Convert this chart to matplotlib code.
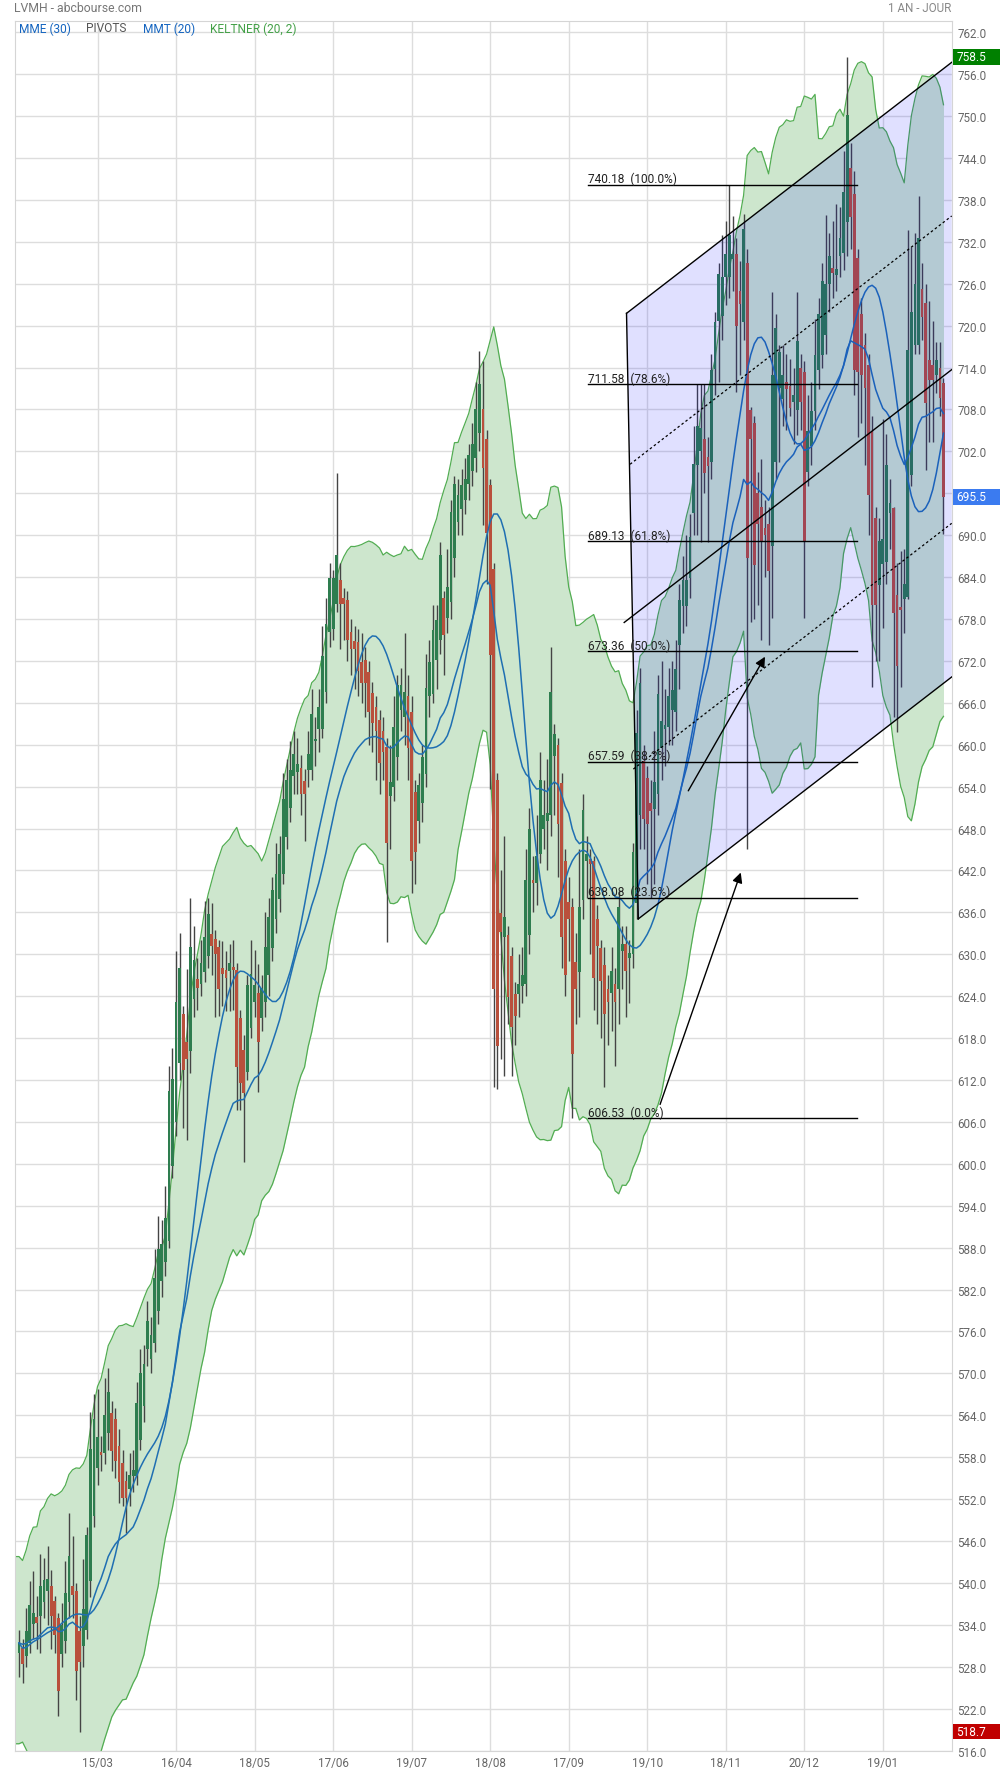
import numpy as np
import pandas as pd
import matplotlib
matplotlib.use("Agg")
import matplotlib.pyplot as plt
from matplotlib.patches import Polygon, Rectangle
from matplotlib.transforms import blended_transform_factory

plt.rcParams['font.family'] = ['Roboto', 'DejaVu Sans']

# ---- daily candles, one entry per session ----
open_ = [
    530.0, 530.7, 529.6, 531.4, 534.1, 535.1, 535.3, 537.2, 538.8, 539.5,
    537.4, 535.0, 529.8, 531.7, 537.2, 539.5, 538.8, 533.1, 531.0, 533.3,
    540.3, 549.6, 556.5, 558.8, 558.6, 561.4, 564.3, 563.4, 559.6, 557.1,
    554.6, 553.4, 555.3, 555.3, 560.5, 565.3, 573.5, 572.0, 574.4, 578.9,
    583.2, 585.9, 589.0, 599.7, 606.0, 614.5, 621.4, 617.4, 616.2, 623.6,
    626.4, 625.7, 627.4, 629.8, 632.9, 632.2, 631.1, 628.0, 627.7, 627.6,
    628.0, 627.8, 620.9, 616.3, 613.2, 619.4, 623.2, 624.4, 620.9, 623.1,
    627.0, 630.9, 635.0, 637.9, 641.5, 646.8, 651.0, 655.5, 656.1, 656.7,
    654.8, 656.4, 656.4, 660.5, 662.2, 662.2, 667.6, 676.2, 676.5, 680.1,
    683.6, 681.0, 680.7, 676.2, 674.9, 674.7, 671.8, 672.1, 670.4, 667.4,
    665.4, 663.5, 661.9, 659.7, 652.7, 653.9, 658.3, 665.0, 664.0, 667.0,
    664.7, 653.2, 649.1, 651.6, 655.8, 667.0, 667.3, 672.1, 675.0, 681.0,
    678.2, 680.4, 686.8, 691.9, 693.8, 695.1, 697.3, 699.2, 701.1, 704.6,
    708.1, 703.8, 697.2, 685.2, 654.9, 635.9, 632.4, 632.8, 629.7, 624.3,
    624.3, 625.4, 625.8, 632.8, 640.6, 640.2, 644.4, 648.0, 649.1, 649.9,
    658.4, 660.0, 654.5, 643.3, 637.5, 636.7, 628.9, 627.4, 637.8, 643.3,
    643.6, 643.3, 635.0, 630.9, 628.5, 625.0, 624.5, 625.7, 625.0, 630.5,
    631.4, 629.5, 630.0, 637.4, 649.9, 657.7, 655.3, 651.6, 650.8, 652.9,
    659.6, 662.2, 662.5, 665.0, 664.7, 674.3, 679.8, 679.8, 683.9, 693.2,
    700.0, 702.1, 703.7, 701.2, 700.5, 713.8, 720.7, 721.4, 726.9, 726.9,
    729.6, 730.3, 725.0, 720.5, 729.0, 707.9, 706.0, 696.0, 694.1, 691.0,
    691.6, 688.4, 700.5, 711.1, 709.5, 712.0, 711.4, 709.0, 707.9, 714.0,
    713.3, 699.0, 702.7, 707.8, 713.6, 715.8, 718.7, 726.0, 728.2, 727.2,
    730.0, 730.4, 734.8, 742.5, 738.8, 729.7, 721.7, 717.3, 714.4, 704.9,
    692.4, 682.9, 685.9, 686.2, 693.2, 693.9, 681.5, 679.6, 680.8, 681.1,
    698.6, 717.3, 717.3, 725.3, 723.3, 715.1, 714.4, 712.9, 714.0, 711.8,
]
high = [
    533.2, 531.9, 536.4, 540.2, 541.7, 538.1, 544.1, 543.6, 545.3, 541.9,
    538.1, 535.7, 537.1, 543.1, 550.0, 546.7, 540.0, 535.2, 543.4, 548.0,
    564.4, 567.0, 567.7, 561.0, 569.4, 570.8, 566.0, 565.0, 562.0, 559.0,
    556.0, 558.6, 559.0, 568.7, 573.5, 574.0, 580.4, 578.0, 587.8, 592.5,
    592.0, 596.8, 614.0, 616.6, 630.5, 633.0, 622.6, 627.9, 638.0, 634.0,
    629.4, 632.0, 637.6, 638.0, 637.4, 633.5, 632.0, 631.9, 630.5, 631.4,
    632.0, 628.7, 622.0, 618.5, 627.0, 632.1, 630.6, 628.6, 627.0, 636.0,
    638.0, 641.0, 646.0, 647.0, 656.0, 658.0, 660.5, 662.0, 661.0, 658.5,
    656.5, 662.0, 668.0, 664.0, 668.0, 677.0, 681.0, 686.0, 685.0, 698.9,
    686.0, 682.5, 682.0, 678.0, 677.0, 676.5, 676.0, 674.0, 672.0, 669.0,
    667.0, 665.0, 664.0, 661.0, 660.0, 667.0, 670.0, 671.0, 676.0, 670.0,
    667.0, 655.0, 656.0, 660.0, 673.0, 675.0, 680.0, 680.0, 689.0, 682.0,
    688.0, 695.0, 698.5, 698.0, 699.5, 701.0, 703.0, 706.0, 712.0, 716.3,
    715.0, 705.0, 698.0, 686.0, 656.0, 642.0, 647.0, 634.0, 631.0, 626.0,
    630.0, 631.0, 645.0, 651.0, 644.0, 650.0, 659.0, 655.0, 658.0, 674.0,
    663.0, 661.0, 656.0, 645.0, 641.0, 638.0, 633.0, 645.0, 653.0, 647.0,
    645.0, 644.0, 637.0, 632.0, 631.0, 627.0, 631.0, 628.0, 639.0, 634.0,
    634.0, 632.0, 646.0, 665.0, 671.0, 660.0, 657.0, 655.0, 662.0, 670.0,
    672.0, 668.0, 671.0, 672.0, 675.0, 683.0, 687.0, 690.0, 693.0, 705.6,
    711.6, 711.7, 711.7, 704.0, 716.0, 722.0, 729.0, 733.0, 735.0, 740.18,
    735.7, 732.5, 729.3, 736.0, 731.0, 708.3, 707.0, 699.0, 700.9, 695.0,
    694.0, 724.8, 721.6, 717.2, 717.2, 716.0, 715.2, 714.0, 724.8, 716.0,
    715.0, 710.0, 712.0, 721.0, 724.0, 729.0, 735.9, 733.3, 735.0, 737.4,
    737.0, 745.0, 758.5, 746.1, 742.1, 731.0, 724.0, 719.0, 716.0, 707.0,
    694.0, 692.4, 706.7, 704.5, 698.0, 694.0, 686.0, 687.7, 688.0, 733.7,
    731.2, 733.3, 738.5, 729.0, 726.0, 723.5, 720.6, 717.6, 717.6, 712.5,
]
low = [
    526.5, 525.6, 528.0, 530.0, 532.0, 530.5, 530.0, 535.0, 534.0, 530.5,
    530.0, 520.9, 528.0, 530.0, 535.0, 535.0, 523.3, 518.7, 527.9, 532.0,
    538.0, 548.0, 554.0, 556.0, 557.0, 559.0, 556.0, 555.0, 551.5, 551.0,
    547.2, 551.0, 553.0, 554.0, 559.0, 563.0, 571.0, 570.0, 573.0, 577.0,
    581.0, 584.0, 588.0, 598.0, 604.0, 612.0, 605.1, 603.4, 613.0, 621.0,
    622.0, 624.0, 626.0, 628.0, 627.0, 621.0, 621.2, 622.6, 621.9, 621.9,
    622.0, 607.7, 607.7, 600.2, 612.0, 618.0, 621.0, 610.3, 619.0, 621.0,
    624.0, 629.0, 633.0, 636.0, 640.0, 645.0, 649.0, 653.0, 653.0, 650.0,
    646.2, 654.0, 655.0, 657.0, 659.0, 661.0, 666.0, 674.0, 675.0, 679.0,
    673.7, 675.0, 672.0, 670.0, 668.0, 667.0, 666.0, 664.0, 660.0, 659.0,
    655.0, 653.0, 655.0, 631.8, 645.0, 652.0, 655.0, 662.0, 660.0, 655.0,
    638.8, 640.0, 646.0, 649.0, 654.0, 664.0, 666.0, 668.0, 673.0, 670.0,
    676.0, 678.0, 684.0, 690.0, 690.0, 693.0, 695.0, 697.0, 699.0, 702.0,
    691.4, 683.0, 653.7, 611.0, 610.7, 615.0, 612.5, 620.0, 612.6, 617.0,
    621.0, 623.0, 624.0, 630.0, 636.0, 637.0, 643.0, 645.0, 642.0, 647.0,
    650.0, 641.0, 628.0, 624.0, 629.0, 606.53, 620.0, 621.0, 635.0, 638.0,
    630.0, 622.0, 620.0, 618.0, 611.0, 617.0, 619.0, 614.0, 620.0, 625.0,
    621.0, 623.0, 628.0, 635.0, 645.0, 645.0, 640.0, 638.0, 640.0, 650.0,
    655.0, 657.0, 660.0, 660.0, 662.0, 668.0, 676.0, 677.0, 681.0, 690.0,
    690.0, 689.0, 696.0, 689.0, 698.0, 710.0, 712.0, 718.0, 723.0, 724.0,
    725.0, 710.5, 713.0, 718.0, 645.0, 677.5, 678.0, 680.0, 675.0, 684.0,
    674.3, 678.2, 698.0, 700.5, 705.6, 705.0, 707.0, 703.0, 704.4, 705.0,
    678.2, 697.0, 700.0, 705.0, 711.0, 714.0, 716.0, 722.0, 724.0, 725.0,
    727.0, 728.0, 730.0, 731.0, 710.0, 704.0, 706.0, 700.0, 690.0, 668.3,
    672.0, 672.0, 676.7, 683.0, 688.0, 664.0, 661.8, 668.3, 676.0, 680.8,
    697.0, 716.0, 716.0, 718.0, 699.4, 703.4, 703.4, 710.3, 707.0, 690.2,
]
close = [
    531.4, 528.4, 533.1, 536.9, 535.7, 534.3, 539.5, 540.4, 540.5, 535.3,
    532.6, 524.5, 534.0, 538.6, 543.8, 538.3, 527.4, 528.6, 536.2, 546.9,
    559.1, 563.4, 560.9, 558.3, 564.1, 567.3, 558.9, 557.5, 554.5, 552.2,
    552.2, 555.4, 556.2, 565.7, 570.0, 571.3, 577.5, 575.5, 583.6, 587.8,
    588.5, 592.3, 610.4, 612.2, 623.1, 628.1, 613.5, 615.0, 631.1, 629.2,
    625.2, 628.8, 632.4, 635.7, 631.2, 630.0, 625.0, 627.2, 626.6, 628.7,
    627.8, 613.8, 611.6, 610.1, 625.6, 627.2, 625.6, 617.5, 625.2, 631.0,
    635.3, 639.2, 641.5, 644.4, 652.3, 655.0, 656.4, 658.7, 657.2, 652.9,
    652.9, 658.7, 664.4, 660.7, 665.4, 672.7, 677.3, 683.8, 683.8, 687.1,
    680.1, 680.1, 675.0, 673.7, 673.7, 670.5, 668.9, 668.9, 664.7, 663.1,
    661.9, 657.4, 659.0, 645.9, 654.6, 662.5, 668.6, 668.6, 667.5, 659.6,
    643.3, 644.6, 654.2, 658.3, 668.1, 671.8, 676.4, 677.9, 687.1, 675.7,
    682.6, 693.3, 697.3, 695.7, 697.2, 698.0, 701.5, 703.0, 708.1, 711.6,
    699.6, 690.3, 672.8, 625.0, 616.9, 633.2, 635.3, 623.9, 619.6, 621.1,
    625.8, 627.0, 640.6, 648.0, 640.2, 644.0, 654.9, 649.9, 650.2, 667.6,
    661.5, 648.7, 632.4, 627.0, 635.1, 615.7, 625.0, 636.7, 650.6, 644.4,
    642.9, 626.6, 631.2, 626.2, 621.5, 623.1, 627.6, 623.1, 636.7, 631.4,
    627.6, 630.2, 644.6, 661.7, 668.9, 649.3, 648.6, 650.5, 654.6, 667.3,
    663.4, 662.8, 667.0, 667.9, 670.8, 680.7, 683.6, 683.6, 689.7, 700.2,
    705.6, 705.3, 698.9, 699.9, 713.6, 720.5, 727.4, 726.9, 730.3, 733.0,
    730.3, 720.0, 723.1, 733.8, 686.8, 703.7, 685.8, 691.6, 689.0, 690.0,
    684.9, 713.0, 719.7, 716.2, 713.0, 711.0, 708.2, 710.0, 717.8, 709.0,
    689.2, 704.9, 707.8, 715.8, 721.7, 726.4, 726.0, 730.0, 727.5, 728.1,
    732.6, 739.2, 750.1, 735.5, 713.6, 713.3, 712.9, 711.1, 695.7, 680.0,
    680.0, 689.1, 689.5, 700.1, 694.6, 678.9, 671.3, 679.3, 683.0, 716.5,
    722.0, 726.0, 732.6, 721.3, 708.9, 712.2, 712.2, 715.1, 709.6, 695.5,
]

date_ticks = [22, 44, 66, 88, 110, 132, 154, 176, 198, 220, 242]
date_labels = ["15/03", "16/04", "18/05", "17/06", "19/07", "18/08",
               "17/09", "19/10", "18/11", "20/12", "19/01"]

fib_levels = [740.18, 711.58, 689.13, 673.36, 657.59, 638.08, 606.53]
fib_pcts = ["100.0%", "78.6%", "61.8%", "50.0%", "38.2%", "23.6%", "0.0%"]

tag_high, tag_last, tag_low = 758.5, 695.5, 518.7

# drawn channel (pitchfork-like) and arrows, in chart coordinates
x_left, x_right = -1.26, 261.3
chan_mid_right = 713.7
chan_slope = 0.3945
chan_step = 22.0
chan_left_top, chan_left_bot = 170.2, 173.5
mid_start, udot_start, ldot_start = 169.55, 171.2, 172.1
fib_start, fib_end = 159.4, 234.7
arrows = [((179.6, 608.5), (202.2, 641.7)),
          ((187.5, 653.4), (209.0, 672.6))]

# ---- indicators ----
df = pd.DataFrame({'o': open_, 'h': high, 'l': low, 'c': close})
df['h'] = df[['o', 'h', 'c']].max(axis=1)
df['l'] = df[['o', 'l', 'c']].min(axis=1)
x = np.arange(len(df))

mme30 = df.c.ewm(span=30, adjust=False).mean()
mmt20 = df.c.rolling(10, min_periods=1).mean().rolling(11, min_periods=1).mean()
tp = (df.h + df.l + df.c) / 3
kmid = tp.ewm(span=20, adjust=False).mean()
prev = df.c.shift(1).fillna(df.o)
tr = pd.concat([df.h - df.l, (df.h - prev).abs(), (df.l - prev).abs()], axis=1).max(axis=1)
atr = tr.rolling(20, min_periods=1).mean()
kup = kmid + 2 * atr
kdn = kmid - 2 * atr

# ---- figure ----
fig = plt.figure(figsize=(10, 17.74), dpi=100)
ax = fig.add_axes([0.0145, 0.01268, 0.9372, 0.97509])
ax.set_xlim(x_left, x_right)
ax.set_ylim(516, 763.66)

xb = np.r_[x_left, x]
ub = np.r_[kup.iloc[0], kup.values]
db = np.r_[kdn.iloc[0], kdn.values]
ax.fill_between(xb, db, ub, color='#cde6cd', lw=0, zorder=1)
ax.plot(xb, ub, color='#52ad52', lw=0.9, zorder=2)
ax.plot(xb, db, color='#52ad52', lw=0.9, zorder=2)

# candles
green, red = '#2e7d4f', '#b9503c'
rising = (df.c >= df.o).values
ax.vlines(x, df.l, df.h, color='#444444', lw=1, zorder=3)
body_lo = np.minimum(df.o, df.c)
body_h = np.maximum((df.c - df.o).abs(), 0.35)
ax.bar(x, body_h, bottom=body_lo, width=0.78, color=np.where(rising, green, red),
       lw=0, zorder=4)

ax.plot(x, mme30, color='#1f6fb2', lw=1.1, zorder=5)
ax.plot(x, mmt20, color='#1f6fb2', lw=1.1, zorder=5)

# channel
def chan(xx, k):
    return chan_mid_right + chan_slope * (np.asarray(xx) - x_right) + k * chan_step

poly = Polygon([(chan_left_top, chan(chan_left_top, 2)), (x_right, chan(x_right, 2)),
                (x_right, chan(x_right, -2)), (chan_left_bot, chan(chan_left_bot, -2))],
               closed=True, facecolor=(0.0, 0.0, 1.0, 0.12), edgecolor='none', zorder=6)
ax.add_patch(poly)
ax.plot([chan_left_top, chan_left_bot], [chan(chan_left_top, 2), chan(chan_left_bot, -2)],
        color='black', lw=1, zorder=7)
ax.plot([chan_left_top, x_right], [chan(chan_left_top, 2), chan(x_right, 2)], color='black', lw=1, zorder=7)
ax.plot([chan_left_bot, x_right], [chan(chan_left_bot, -2), chan(x_right, -2)], color='black', lw=1, zorder=7)
ax.plot([mid_start, x_right], [chan(mid_start, 0), chan(x_right, 0)], color='black', lw=1, zorder=7)
ax.plot([udot_start, x_right], [chan(udot_start, 1), chan(x_right, 1)], color='black', lw=0.9,
        ls=(0, (2, 2)), zorder=7)
ax.plot([ldot_start, x_right], [chan(ldot_start, -1), chan(x_right, -1)], color='black', lw=0.9,
        ls=(0, (2, 2)), zorder=7)

# fibonacci retracement
for lvl, pct in zip(fib_levels, fib_pcts):
    ax.plot([fib_start, fib_end], [lvl, lvl], color='black', lw=1, zorder=7)
    ax.text(fib_start, lvl + 0.35, f"{lvl:.2f}  ({pct})", fontsize=8.6, color='#222222',
            va='baseline', ha='left', zorder=8)

for tail, head in arrows:
    ax.annotate('', xy=head, xytext=tail,
                arrowprops=dict(arrowstyle='-|>', color='black', lw=1,
                                mutation_scale=15, shrinkA=0, shrinkB=0), zorder=8)

# axes styling
ax.set_yticks(np.arange(516, 763, 6))
ax.set_yticklabels([f"{v:.1f}" for v in np.arange(516, 763, 6)])
ax.set_xticks(date_ticks)
ax.set_xticklabels(date_labels)
ax.yaxis.tick_right()
ax.tick_params(axis='y', length=0, pad=4, labelsize=8.4, labelcolor='#666666')
ax.tick_params(axis='x', length=0, pad=4, labelsize=8.4, labelcolor='#666666')
ax.grid(True, color='#dddddd', lw=1)
ax.set_axisbelow(True)
for s in ax.spines.values():
    s.set_color('#d5d5d5')

# price tags on the right scale
trans = blended_transform_factory(fig.transFigure, ax.transData)
for val, col in [(tag_high, '#008000'), (tag_last, '#3b7bf0'), (tag_low, '#c00000')]:
    ax.add_patch(Rectangle((0.9527, val - 1.12), 0.0473, 2.25, transform=trans,
                           facecolor=col, edgecolor='none', clip_on=False, zorder=10))
    ax.text(0.9565, val, f"{val:.1f}", transform=trans, color='white', fontsize=8.6,
            va='center', ha='left', clip_on=False, zorder=11)

# header and legend
fig.text(0.014, 1 - 9 / 1774, "LVMH - abcbourse.com", fontsize=8.8, color='#777777',
         va='center', ha='left')
fig.text(0.951, 1 - 9 / 1774, "1 AN - JOUR", fontsize=8.4, color='#888888',
         va='center', ha='right')
legend = [("MME (30)", '#1565c0', 0.0193), ("PIVOTS", '#555555', 0.086),
          ("MMT (20)", '#1565c0', 0.1427), ("KELTNER (20, 2)", '#43a047', 0.210)]
for txt, col, xx in legend:
    fig.text(xx, 1 - 29 / 1774, txt, fontsize=8.6, color=col, va='center', ha='left')

fig.savefig('out.png', dpi=100)
